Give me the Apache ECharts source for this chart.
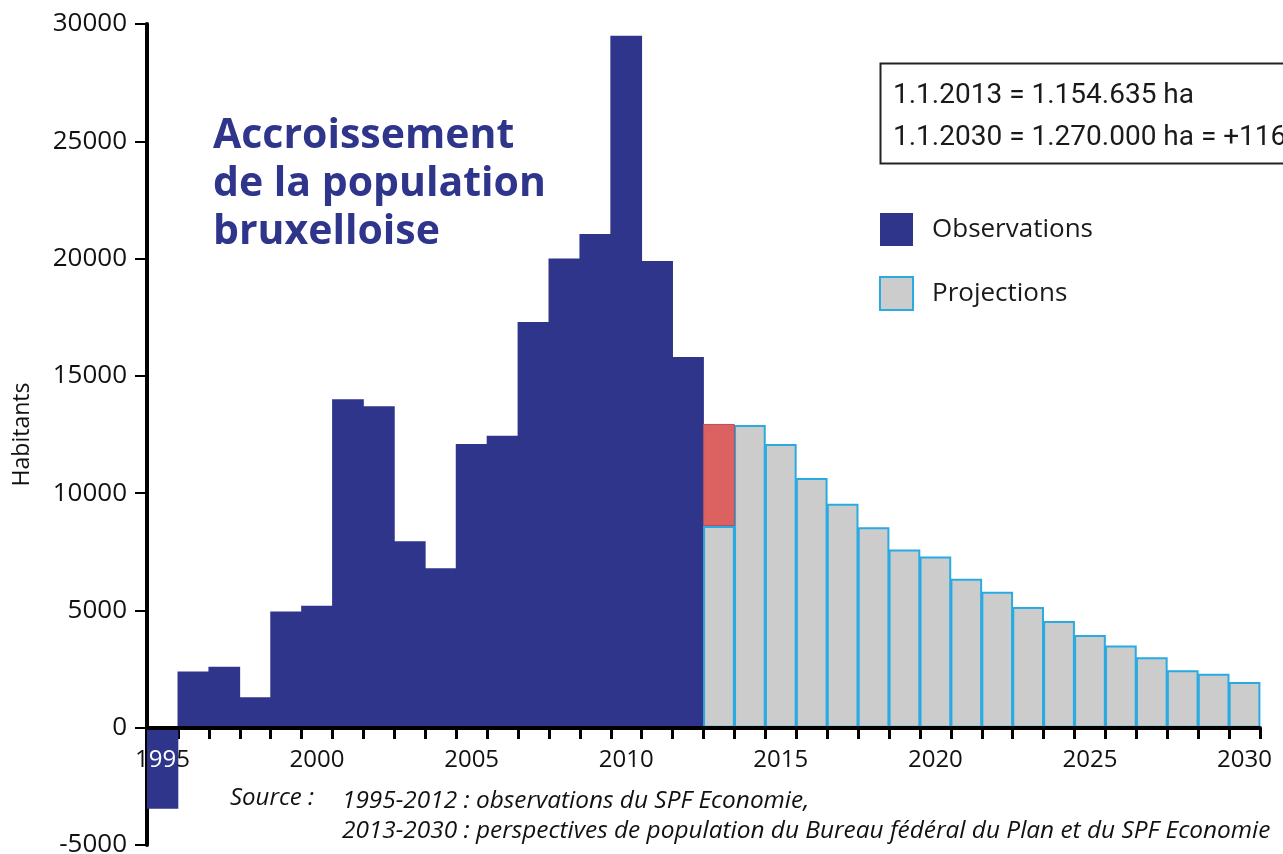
<!DOCTYPE html>
<html>
<head>
<meta charset="utf-8">
<script src="https://cdn.jsdelivr.net/npm/echarts@6/dist/echarts.min.js"></script>
<style>
  html, body { margin: 0; padding: 0; background: #fff; }
  #chart { width: 1283px; height: 854px; }
</style>
</head>
<body>
<div id="chart"></div>
<script>
// years 1995-2030
const years = ['1995', '1996', '1997', '1998', '1999', '2000', '2001', '2002', '2003', '2004',
  '2005', '2006', '2007', '2008', '2009', '2010', '2011', '2012', '2013', '2014', '2015',
  '2016', '2017', '2018', '2019', '2020', '2021', '2022', '2023', '2024', '2025', '2026',
  '2027', '2028', '2029', '2030'];

// observed growth 1995-2012
const observations = [-3450, 2400, 2600, 1300, 4950, 5200, 14000, 13700, 7950, 6800,
  12100, 12450, 17300, 20000, 21050, 29500, 19900, 15800];

// projected growth 2013-2030
const projections = [8600, 12900, 12100, 10650, 9550, 8550, 7600, 7300, 6350, 5800,
  5150, 4550, 3950, 3500, 3000, 2450, 2300, 1950];

// red part on top of 2013
const ecart2013 = [4350];

const yMin = -5000;
const yMax = 30000;

const blue = '#2e358b';
const nObs = observations.length;

const obsData = years.map((y, i) => i < nObs ? observations[i] : '-');
const projData = years.map((y, i) => i < nObs ? '-' : projections[i - nObs]);
const redData = years.map((y, i) => i === nObs ? ecart2013[0] : '-');

const W = 1283, H = 854;
const gridLeft = 147, gridRight = 23, gridTop = 24, gridBottom = 9;
const plotH = H - gridTop - gridBottom;
const catW = (W - gridLeft - gridRight) / years.length;
// move the x axis up to the zero line (labels and ticks too)
const zeroOffset = Math.round(-plotH * (0 - yMin) / (yMax - yMin));

const chart = echarts.init(document.getElementById('chart'));

chart.setOption({
  animation: false,
  grid: { left: gridLeft, right: gridRight, top: gridTop, bottom: gridBottom, outerBoundsMode: 'none' },
  legend: {
    orient: 'vertical',
    left: 879,
    top: 213,
    padding: 0,
    itemWidth: 33,
    itemHeight: 33,
    itemGap: 30,
    icon: 'rect',
    data: ['Observations', 'Projections'],
    textStyle: { fontFamily: 'Open Sans', fontSize: 26, color: '#1a1a1a', padding: [0, 0, 0, 14] }
  },
  xAxis: [
    {
      type: 'category',
      data: years,
      z: 5,
      offset: zeroOffset,
      axisLine: { onZero: false, lineStyle: { color: '#000', width: 4 } },
      axisTick: { show: false },
      axisLabel: {
        interval: 4,
        margin: 20,
        fontFamily: 'Open Sans',
        fontSize: 24,
        color: '#111',
        // the first label sits on the negative bar: middle digits in white
        formatter: v => v === years[0] ? v[0] + '{w|' + v.slice(1, 3) + '}' + v[3] : v,
        rich: { w: { color: '#fff', fontFamily: 'Open Sans', fontSize: 24 } }
      },
      splitLine: { show: false }
    },
    {
      // tick marks between the years
      type: 'value',
      position: 'bottom',
      min: 0,
      max: years.length,
      interval: 1,
      offset: zeroOffset,
      axisLine: { show: true, onZero: false, lineStyle: { color: 'rgba(0,0,0,0)', width: 1 } },
      axisTick: { show: true, length: 11, lineStyle: { color: '#000', width: 3 } },
      axisLabel: { show: false },
      splitLine: { show: false }
    }
  ],
  yAxis: {
    type: 'value',
    min: yMin,
    max: yMax,
    interval: 5000,
    name: 'Habitants',
    nameLocation: 'middle',
    nameRotate: 90,
    nameGap: 113,
    nameTextStyle: { fontFamily: 'Open Sans', fontSize: 23, color: '#111' },
    axisLine: { show: true, lineStyle: { color: '#000', width: 4 } },
    axisTick: { show: true, length: 12, lineStyle: { color: '#000', width: 2 } },
    axisLabel: {
      margin: 20,
      fontFamily: 'Open Sans',
      fontSize: 26,
      color: '#111',
      formatter: v => String(v)
    },
    splitLine: { show: false }
  },
  series: [
    {
      name: 'Observations',
      type: 'bar',
      stack: 'all',
      barWidth: catW + 0.8,
      data: obsData,
      itemStyle: { color: blue }
    },
    {
      name: 'Projections',
      type: 'bar',
      stack: 'all',
      data: projData,
      itemStyle: { color: '#cccccc', borderColor: '#29abe2', borderWidth: 2 }
    },
    {
      name: 'Ecart',
      type: 'bar',
      stack: 'all',
      data: redData,
      itemStyle: { color: '#dc6262', borderColor: '#b0525c', borderWidth: 1 }
    }
  ],
  graphic: [
    {
      type: 'text',
      left: 213,
      top: 112,
      style: {
        text: 'Accroissement\nde la population\nbruxelloise',
        font: 'bold 41px "Open Sans"',
        lineHeight: 48,
        fill: blue
      }
    },
    {
      type: 'rect',
      left: 878,
      top: 61,
      shape: { width: 480, height: 100 },
      style: { fill: 'none', stroke: '#222', lineWidth: 2 }
    },
    {
      type: 'text',
      left: 893,
      top: 75,
      style: {
        text: '1.1.2013 = 1.154.635 ha\n1.1.2030 = 1.270.000 ha = +116',
        font: '28px Roboto',
        lineHeight: 42,
        fill: '#1a1a1a'
      }
    },
    {
      type: 'text',
      left: 230,
      top: 786,
      style: {
        text: 'Source :',
        font: 'italic 24px "Open Sans"',
        fill: '#111'
      }
    },
    {
      type: 'text',
      left: 342,
      top: 786,
      style: {
        text: '1995-2012 : observations du SPF Economie,\n2013-2030 : perspectives de population du Bureau fédéral du Plan et du SPF Economie',
        font: 'italic 24.4px "Open Sans"',
        lineHeight: 30,
        fill: '#111'
      }
    }
  ]
});
</script>
</body>
</html>
